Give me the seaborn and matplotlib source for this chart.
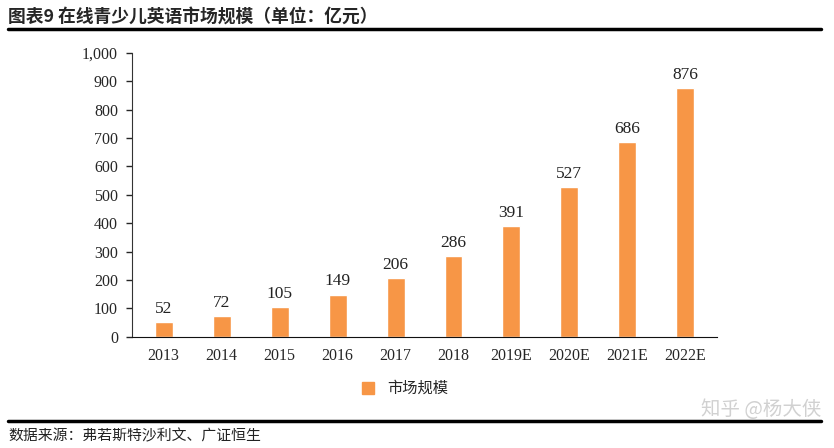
import matplotlib
matplotlib.use("Agg")
import matplotlib.pyplot as plt
import seaborn as sns
import pandas as pd
from matplotlib.ticker import FuncFormatter
from matplotlib.lines import Line2D

years = ["2013", "2014", "2015", "2016", "2017", "2018", "2019E", "2020E", "2021E", "2022E"]
market_size = [52, 72, 105, 149, 206, 286, 391, 527, 686, 876]

title = "图表9 在线青少儿英语市场规模（单位：亿元）"
source = "数据来源：弗若斯特沙利文、广证恒生"
series_name = "市场规模"
bar_color = "#F79646"

sns.set_style("white")
plt.rcParams['font.family'] = ['Liberation Serif', 'Noto Sans CJK SC', 'DejaVu Sans']

df = pd.DataFrame({"year": years, "value": market_size})

fig = plt.figure(figsize=(8.34, 4.48), dpi=100)
ax = fig.add_axes([0.158, 0.248, 0.702, 0.634])

sns.barplot(data=df, x="year", y="value", color=bar_color, width=0.31,
            saturation=1, ax=ax)

# value labels above bars
for i, v in enumerate(market_size):
    ax.text(i, v + 18, str(v), ha="center", va="bottom", fontsize=12.5,
            color="#222222")

ax.set_ylim(0, 1000)
ax.set_xlim(-0.55, 9.55)
ax.set_yticks(range(0, 1001, 100))
ax.yaxis.set_major_formatter(FuncFormatter(lambda v, p: f"{int(v):,}"))
ax.tick_params(axis="y", labelsize=11.5, length=4, width=1, direction="out", left=True, pad=6)
ax.tick_params(axis="x", labelsize=11.5, length=0, pad=8)
ax.set_xlabel("")
ax.set_ylabel("")
for s in ["top", "right"]:
    ax.spines[s].set_visible(False)
ax.spines["left"].set_color("#333333")
ax.spines["bottom"].set_color("#111111")

# legend
handle = Line2D([], [], marker="s", linestyle="none", markersize=8,
                markerfacecolor=bar_color, markeredgecolor=bar_color)
fig.legend([handle], [series_name], loc="center", bbox_to_anchor=(0.48, 0.133),
           frameon=False, handletextpad=0.3,
           prop={"family": ["Noto Sans CJK SC"], "size": 11})

# title, rules, source
fig.text(0.01, 0.962, title, fontsize=12.8, fontweight="bold",
         family=["Noto Sans CJK SC"], va="center", ha="left")
fig.add_artist(Line2D([0.01, 0.985], [0.935, 0.935], color="black", lw=2.5,
                      transform=fig.transFigure))
fig.add_artist(Line2D([0.01, 0.985], [0.06, 0.06], color="black", lw=2.5,
                      transform=fig.transFigure))
fig.text(0.01, 0.027, source, fontsize=10.7, family=["Noto Sans CJK SC"],
         va="center", ha="left", color="#222222")
fig.text(0.985, 0.085, "知乎 @杨大侠", fontsize=14, family=["Noto Sans CJK SC"],
         va="center", ha="right", color="#cccccc", alpha=0.9)

fig.savefig("out.png", dpi=100)
